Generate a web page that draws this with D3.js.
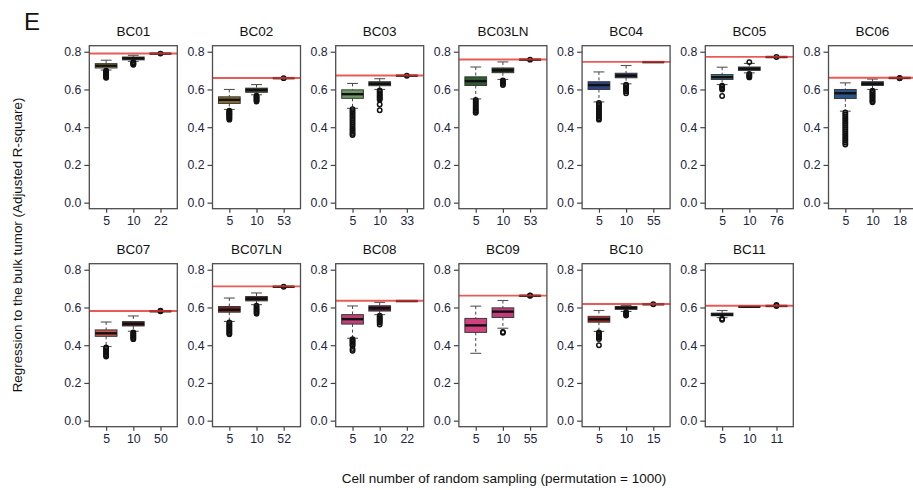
<!DOCTYPE html>
<html>
<head>
<meta charset="utf-8">
<script src="https://cdn.jsdelivr.net/npm/d3@7"></script>
<style>
  html, body { margin: 0; padding: 0; background: #fff; }
  svg { display: block; font-family: "Liberation Sans", Arial, sans-serif; }
</style>
</head>
<body>
<svg id="chart" width="913" height="490"></svg>
<script>
// Tumour samples, one panel each
const panels = ["BC01","BC02","BC03","BC03LN","BC04","BC05","BC06",
                "BC07","BC07LN","BC08","BC09","BC10","BC11"];
// Sub-sampling sizes; the third group uses every cell of the sample
const subsampleSizes = ["5", "10"];
const allCellCounts = ["22","53","33","53","55","76","18","50","52","22","55","15","11"];

// Adjusted R-square of the bulk tumour regression (red reference line)
const bulkR2 = [0.791, 0.661, 0.674, 0.759, 0.746, 0.773, 0.662,
                0.581, 0.712, 0.636, 0.663, 0.618, 0.609];

// Box statistics [lower whisker, Q1, median, Q3, upper whisker]
const stats5 = [
  [0.703, 0.714, 0.726, 0.737, 0.755],
  [0.494, 0.526, 0.545, 0.561, 0.600],
  [0.500, 0.553, 0.575, 0.598, 0.632],
  [0.550, 0.621, 0.644, 0.667, 0.719],
  [0.534, 0.600, 0.623, 0.641, 0.693],
  [0.626, 0.653, 0.665, 0.679, 0.718],
  [0.485, 0.552, 0.580, 0.600, 0.635],
  [0.393, 0.447, 0.463, 0.481, 0.523],
  [0.526, 0.575, 0.588, 0.605, 0.650],
  [0.437, 0.512, 0.538, 0.562, 0.608],
  [0.357, 0.468, 0.505, 0.542, 0.607],
  [0.473, 0.522, 0.537, 0.553, 0.584],
  [0.546, 0.556, 0.562, 0.570, 0.584]
];
const stats10 = [
  [0.749, 0.757, 0.765, 0.772, 0.781],
  [0.572, 0.585, 0.598, 0.607, 0.626],
  [0.600, 0.620, 0.630, 0.641, 0.657],
  [0.653, 0.689, 0.702, 0.714, 0.746],
  [0.630, 0.662, 0.673, 0.686, 0.727],
  [0.688, 0.701, 0.710, 0.719, 0.738],
  [0.600, 0.621, 0.630, 0.641, 0.655],
  [0.474, 0.502, 0.513, 0.525, 0.555],
  [0.615, 0.635, 0.646, 0.658, 0.677],
  [0.562, 0.581, 0.596, 0.609, 0.627],
  [0.490, 0.547, 0.578, 0.598, 0.637],
  [0.579, 0.590, 0.598, 0.605, 0.611],
  [0.603, 0.603, 0.604, 0.605, 0.605]
];
const statsAll = [
  [0.790, 0.790, 0.790, 0.790, 0.790],
  [0.660, 0.660, 0.660, 0.660, 0.660],
  [0.673, 0.673, 0.673, 0.673, 0.673],
  [0.758, 0.758, 0.758, 0.758, 0.758],
  [0.745, 0.745, 0.745, 0.745, 0.745],
  [0.772, 0.772, 0.772, 0.772, 0.772],
  [0.661, 0.661, 0.661, 0.661, 0.661],
  [0.580, 0.580, 0.580, 0.580, 0.580],
  [0.710, 0.710, 0.710, 0.710, 0.710],
  [0.634, 0.634, 0.634, 0.634, 0.634],
  [0.662, 0.662, 0.662, 0.662, 0.662],
  [0.617, 0.617, 0.617, 0.617, 0.617],
  [0.608, 0.608, 0.608, 0.608, 0.608]
];

// Outlying permutations
const out5 = [
  [0.699, 0.695, 0.690, 0.685, 0.680, 0.675, 0.670, 0.665, 0.662],
  [0.488, 0.483, 0.478, 0.473, 0.468, 0.463, 0.458, 0.452, 0.446, 0.440],
  [0.495, 0.485, 0.475, 0.465, 0.455, 0.445, 0.435, 0.425, 0.415, 0.405, 0.395, 0.385, 0.375, 0.365, 0.358],
  [0.545, 0.537, 0.529, 0.521, 0.513, 0.505, 0.497, 0.489, 0.481, 0.476],
  [0.528, 0.520, 0.512, 0.504, 0.496, 0.488, 0.480, 0.472, 0.464, 0.456, 0.448, 0.440],
  [0.620, 0.613, 0.606, 0.600, 0.565],
  [0.478, 0.468, 0.458, 0.448, 0.438, 0.428, 0.418, 0.408, 0.398, 0.388, 0.378, 0.368, 0.358, 0.348, 0.338, 0.328, 0.318, 0.308],
  [0.388, 0.381, 0.374, 0.367, 0.360, 0.353, 0.346, 0.340],
  [0.520, 0.513, 0.506, 0.499, 0.492, 0.485, 0.478, 0.471, 0.464, 0.458],
  [0.432, 0.425, 0.418, 0.411, 0.404, 0.397, 0.380, 0.370],
  [],
  [0.468, 0.461, 0.454, 0.447, 0.440, 0.433, 0.400],
  [0.540, 0.535]
];
const out10 = [
  [0.745, 0.742, 0.738, 0.734, 0.731],
  [0.567, 0.562, 0.557, 0.552, 0.547, 0.541, 0.536],
  [0.595, 0.588, 0.580, 0.573, 0.566, 0.559, 0.552, 0.545, 0.520, 0.490],
  [0.648, 0.642, 0.636, 0.630, 0.624],
  [0.625, 0.618, 0.611, 0.604, 0.597, 0.590, 0.580],
  [0.745, 0.682, 0.676, 0.670, 0.664],
  [0.594, 0.588, 0.581, 0.574, 0.567, 0.560, 0.553, 0.546, 0.539, 0.532],
  [0.468, 0.462, 0.456, 0.450, 0.444, 0.438, 0.432],
  [0.609, 0.602, 0.595, 0.588, 0.581, 0.574, 0.567],
  [0.556, 0.549, 0.542, 0.535, 0.528, 0.520, 0.510],
  [0.470, 0.466],
  [0.575, 0.569, 0.563, 0.557],
  []
];
const outAll = [
  [0.790], [0.660], [0.673], [0.758], [], [0.772], [0.661, 0.659],
  [0.580, 0.583], [0.710], [], [0.662, 0.664], [0.617], [0.608, 0.614]
];

// Fill colours per sample: 5 cells, 10 cells (also used for all cells)
const fill5  = ["#958e3f","#8e6b27","#6b9b62","#2f5b31","#2b4489","#3a7894","#2b5488",
                "#ca554c","#7f2322","#c2407a","#d1417f","#b32525","#1e1e1e"];
const fill10 = ["#34331a","#433d1f","#2c4b2b","#1f3b1f","#1f2f63","#1d4453","#1b3551",
                "#5f1f1f","#4e1515","#5d1e3b","#c43a7a","#1b1b1b","#1e1e1e"];

const tickValuesY = [0, 0.2, 0.4, 0.6, 0.8];

const svg = d3.select("#chart");

// panel geometry
const colLeft = 89.3, colStep = 123.2, plotW = 88, plotH = 163;
const rowTop = [45.7, 263.7];

svg.append("text")
  .attr("x", 24).attr("y", 30)
  .attr("font-size", 24).attr("fill", "#111")
  .text("E");

panels.forEach((name, i) => {
  const row = i < 7 ? 0 : 1;
  const col = i < 7 ? i : i - 7;
  const left = colLeft + col * colStep;
  const top = rowTop[row];

  const x = d3.scaleLinear().domain([0.38, 3.62]).range([left, left + plotW]);
  const y = d3.scaleLinear().domain([-0.032, 0.832]).range([top + plotH, top]);

  const g = svg.append("g");

  // panel title
  g.append("text")
    .attr("x", left + plotW / 2).attr("y", top - 14)
    .attr("text-anchor", "middle").attr("dominant-baseline", "central")
    .attr("font-size", 13.5).attr("fill", "#111")
    .text(name);

  // axes
  const yAxis = d3.axisLeft(y).tickValues(tickValuesY)
    .tickFormat(d3.format(".1f")).tickSize(5).tickPadding(3);
  const ya = g.append("g").attr("transform", `translate(${left},0)`).call(yAxis);
  ya.select(".domain").remove();
  ya.selectAll("line").attr("stroke", "#444").attr("stroke-width", 1.2);
  ya.selectAll("text").attr("font-size", 12.3).attr("fill", "#1d2440")
    .attr("font-family", "'Liberation Sans', Arial, sans-serif");

  const labels = [subsampleSizes[0], subsampleSizes[1], allCellCounts[i]];
  const xAxis = d3.axisBottom(x).tickValues([1, 2, 3])
    .tickFormat((d, k) => labels[k]).tickSize(4).tickPadding(3.5);
  const xa = g.append("g").attr("transform", `translate(0,${top + plotH})`).call(xAxis);
  xa.select(".domain").remove();
  xa.selectAll("line").attr("stroke", "#444").attr("stroke-width", 1.2);
  xa.selectAll("text").attr("font-size", 12.3).attr("fill", "#1d2440")
    .attr("font-family", "'Liberation Sans', Arial, sans-serif");

  // boxes
  const groups = [
    { pos: 1, s: stats5[i], out: out5[i], fill: fill5[i] },
    { pos: 2, s: stats10[i], out: out10[i], fill: fill10[i] },
    { pos: 3, s: statsAll[i], out: outAll[i], fill: fill10[i] }
  ];
  const bw = (x(1.4) - x(1.0));      // half box width
  const cw = bw / 2;                  // half staple width

  groups.forEach(gr => {
    const cx = x(gr.pos);
    const [lo, q1, med, q3, hi] = gr.s;
    const bg = g.append("g");
    // whiskers
    bg.append("line").attr("x1", cx).attr("x2", cx).attr("y1", y(hi)).attr("y2", y(q3))
      .attr("stroke", "#444").attr("stroke-width", 1).attr("stroke-dasharray", "3,2.5");
    bg.append("line").attr("x1", cx).attr("x2", cx).attr("y1", y(q1)).attr("y2", y(lo))
      .attr("stroke", "#444").attr("stroke-width", 1).attr("stroke-dasharray", "3,2.5");
    // staples
    [lo, hi].forEach(v => {
      bg.append("line").attr("x1", cx - cw).attr("x2", cx + cw).attr("y1", y(v)).attr("y2", y(v))
        .attr("stroke", "#555").attr("stroke-width", 1.1);
    });
    // box
    bg.append("rect")
      .attr("x", cx - bw).attr("width", 2 * bw)
      .attr("y", y(q3)).attr("height", Math.max(0.01, y(q1) - y(q3)))
      .attr("fill", gr.fill).attr("stroke", "#3a3a3a").attr("stroke-width", 1);
    // median
    bg.append("line").attr("x1", cx - bw).attr("x2", cx + bw).attr("y1", y(med)).attr("y2", y(med))
      .attr("stroke", "#111").attr("stroke-width", 2.4);
    // outliers
    bg.selectAll("circle").data(gr.out).join("circle")
      .attr("cx", cx).attr("cy", d => y(d)).attr("r", 2.2)
      .attr("fill", "none").attr("stroke", "#111").attr("stroke-width", 1.5);
  });

  // bulk tumour reference line
  g.append("line")
    .attr("x1", left).attr("x2", left + plotW)
    .attr("y1", y(bulkR2[i])).attr("y2", y(bulkR2[i]))
    .attr("stroke", "#e5322d").attr("stroke-opacity", 0.8).attr("stroke-width", 1.9);

  // frame
  g.append("rect")
    .attr("x", left).attr("y", top).attr("width", plotW).attr("height", plotH)
    .attr("fill", "none").attr("stroke", "#4d4d4d").attr("stroke-width", 1.3);
});

// shared axis titles
svg.append("text")
  .attr("transform", "translate(17.5,245) rotate(-90)")
  .attr("text-anchor", "middle").attr("dominant-baseline", "central")
  .attr("font-size", 13.4).attr("fill", "#111")
  .text("Regression to the bulk tumor (Adjusted R-square)");

svg.append("text")
  .attr("x", 504).attr("y", 478)
  .attr("text-anchor", "middle").attr("dominant-baseline", "central")
  .attr("font-size", 13.5).attr("fill", "#111")
  .text("Cell number of random sampling (permutation = 1000)");
</script>
</body>
</html>
